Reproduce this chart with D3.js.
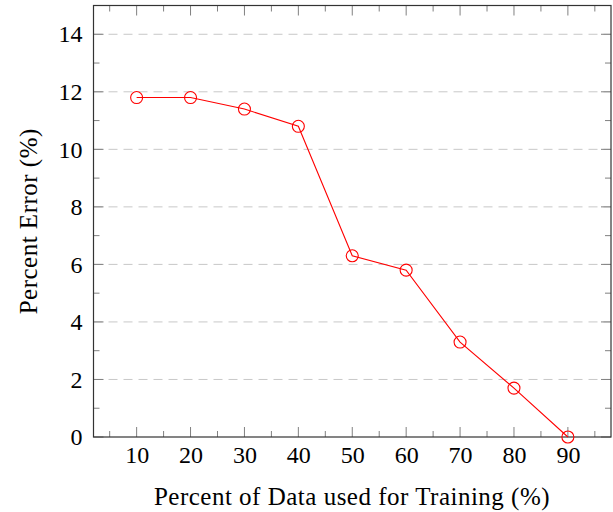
<!DOCTYPE html>
<html>
<head>
<meta charset="utf-8">
<script src="https://cdn.jsdelivr.net/npm/d3@7"></script>
<style>
  body { margin: 0; background: #fff; }
  svg text { font-family: "Liberation Serif", "DejaVu Serif", serif; fill: #000; }
</style>
</head>
<body>
<div id="chart"></div>
<script>
// Data
const trainPct = [10, 20, 30, 40, 50, 60, 70, 80, 90];
const errorPct = [11.8, 11.8, 11.4, 10.8, 6.3, 5.8, 3.3, 1.7, 0];
const xTicks = [10, 20, 30, 40, 50, 60, 70, 80, 90];
const xMinorTicks = [5, 15, 25, 35, 45, 55, 65, 75, 85, 95];
const yTicks = [0, 2, 4, 6, 8, 10, 12, 14];
const yMinorTicks = [1, 3, 5, 7, 9, 11, 13];

const W = 613, H = 512;
const margin = { top: 5.5, right: 2, bottom: 75, left: 93.5 };
const width = W - margin.left - margin.right;
const height = H - margin.top - margin.bottom;

const svg = d3.select('#chart')
  .append('svg')
  .attr('width', W)
  .attr('height', H);

const g = svg.append('g')
  .attr('transform', `translate(${margin.left},${margin.top})`);

const x = d3.scaleLinear().domain([2, 98]).range([0, width]);
const y = d3.scaleLinear().domain([0, 15]).range([height, 0]);

// Horizontal dashed grid
g.selectAll('.grid')
  .data(yTicks.filter(d => d > 0))
  .enter()
  .append('line')
  .attr('x1', 0)
  .attr('x2', width)
  .attr('y1', d => y(d))
  .attr('y2', d => y(d))
  .attr('stroke', '#c8c8c8')
  .attr('stroke-width', 1)
  .attr('stroke-dasharray', '9,6');

// Ticks on all four sides, pointing inward
const tickColor = '#808080';
function ticks(vals, len, axis) {
  vals.forEach(v => {
    if (axis === 'x') {
      g.append('line').attr('x1', x(v)).attr('x2', x(v)).attr('y1', height).attr('y2', height - len)
        .attr('stroke', tickColor);
      g.append('line').attr('x1', x(v)).attr('x2', x(v)).attr('y1', 0).attr('y2', len)
        .attr('stroke', tickColor);
    } else {
      g.append('line').attr('y1', y(v)).attr('y2', y(v)).attr('x1', 0).attr('x2', len)
        .attr('stroke', tickColor);
      g.append('line').attr('y1', y(v)).attr('y2', y(v)).attr('x1', width).attr('x2', width - len)
        .attr('stroke', tickColor);
    }
  });
}
ticks(xTicks, 10, 'x');
ticks(xMinorTicks, 6, 'x');
ticks(yTicks, 10, 'y');
ticks(yMinorTicks, 6, 'y');

// Axes (labels only, frame drawn separately)
const xAxis = g.append('g')
  .attr('transform', `translate(0,${height})`)
  .call(d3.axisBottom(x).tickValues(xTicks).tickSize(0).tickPadding(9));
xAxis.select('.domain').remove();
xAxis.selectAll('text').attr('font-size', '24px').attr('dy', '0.71em');

const yAxis = g.append('g')
  .call(d3.axisLeft(y).tickValues(yTicks).tickSize(0).tickPadding(11));
yAxis.select('.domain').remove();
yAxis.selectAll('text').attr('font-size', '24px');
svg.selectAll('.tick text').style('font-family', '"Liberation Serif", "DejaVu Serif", serif');

// Frame
g.append('rect')
  .attr('x', 0).attr('y', 0)
  .attr('width', width).attr('height', height)
  .attr('fill', 'none')
  .attr('stroke', '#333')
  .attr('stroke-width', 1.2);

// Line + markers
const pts = trainPct.map((d, i) => ({ x: d, y: errorPct[i] }));
g.append('path')
  .datum(pts)
  .attr('fill', 'none')
  .attr('stroke', '#ff0000')
  .attr('stroke-width', 1.1)
  .attr('d', d3.line().x(d => x(d.x)).y(d => y(d.y)));

g.selectAll('.pt')
  .data(pts)
  .enter()
  .append('circle')
  .attr('cx', d => x(d.x))
  .attr('cy', d => y(d.y))
  .attr('r', 6)
  .attr('fill', 'none')
  .attr('stroke', '#ff0000')
  .attr('stroke-width', 1.1);

// Axis titles
svg.append('text')
  .attr('x', 352)
  .attr('y', 505)
  .attr('text-anchor', 'middle')
  .attr('font-size', '25px')
  .attr('letter-spacing', '0.5px')
  .text('Percent of Data used for Training (%)');

svg.append('text')
  .attr('transform', `translate(37,${margin.top + height / 2}) rotate(-90)`)
  .attr('text-anchor', 'middle')
  .attr('font-size', '25px')
  .attr('letter-spacing', '0.5px')
  .text('Percent Error (%)');
</script>
</body>
</html>
